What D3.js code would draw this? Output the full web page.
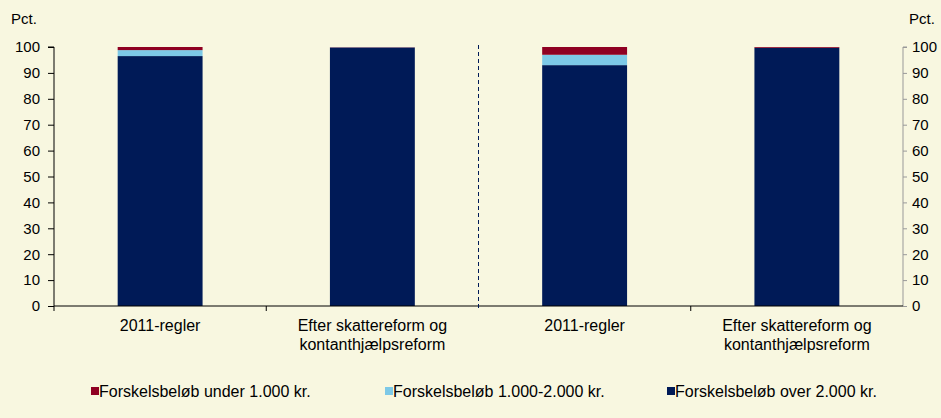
<!DOCTYPE html>
<html><head><meta charset="utf-8">
<script src="https://cdn.jsdelivr.net/npm/d3@7"></script>
<style>body{margin:0;background:#F8F7E0;}svg{display:block;font-family:"Liberation Sans",Arial,sans-serif;}</style>
</head><body><svg id="c" width="941" height="418"></svg>
<script>
const categories = ["2011-regler", "Efter skattereform og\nkontanthjælpsreform", "2011-regler ", "Efter skattereform og\nkontanthjælpsreform "];
const seriesNames = ["Forskelsbeløb over 2.000 kr.", "Forskelsbeløb 1.000-2.000 kr.", "Forskelsbeløb under 1.000 kr."];
const over2000 = [96.5, 99.8, 93.0, 99.7];
const mid1000to2000 = [2.3, 0.1, 4.0, 0.0];
const under1000 = [1.2, 0.1, 3.0, 0.3];
const yTicks = [0,10,20,30,40,50,60,70,80,90,100];
const colors = ["#001A57", "#7DC9E7", "#8F0022"];
const legendOrder = [2,1,0];

const svg = d3.select("#c");
const W=941,H=418;
svg.append("rect").attr("width",W).attr("height",H).attr("fill","#F8F7E0");
const x0=54, x1=903, yTop=47, yBot=306;
const x = d3.scaleBand().domain(categories).range([x0,x1]).paddingInner(0.6).paddingOuter(0.3);
const xb = d3.scaleBand().domain(categories).range([x0,x1]);
const y = d3.scaleLinear().domain([0,100]).range([yBot,yTop]);

const rows = categories.map((c,i)=>({cat:c, s0:over2000[i], s1:mid1000to2000[i], s2:under1000[i]}));
const stack = d3.stack().keys(["s0","s1","s2"])(rows);
stack.forEach((layer,k)=>{
  svg.append("g").selectAll("rect").data(layer).join("rect")
    .attr("x",d=>x(d.data.cat)).attr("width",x.bandwidth())
    .attr("y",d=>y(d[1])).attr("height",d=>y(d[0])-y(d[1]))
    .attr("fill",colors[k]);
});

const FONT="Liberation Sans, Arial, sans-serif";
// left axis
const la = svg.append("g").attr("transform",`translate(${x0},0)`)
  .call(d3.axisLeft(y).tickValues(yTicks).tickSize(6).tickPadding(8).tickFormat(d3.format("d")));
la.select(".domain").attr("stroke","#000").attr("d",`M-6,${yTop}H0V${yBot}`);
la.selectAll("line").attr("stroke","#000");
la.selectAll("text").attr("font-size",15).attr("fill","#000").attr("font-family",FONT);

// right axis
const ra = svg.append("g").attr("transform",`translate(${x1},0)`)
  .call(d3.axisRight(y).tickValues(yTicks).tickSize(4).tickPadding(5).tickFormat(d3.format("d")));
ra.select(".domain").attr("stroke","#999").attr("d",`M4,${yTop}H0V${yBot}`);
ra.selectAll("line").attr("stroke","#999");
ra.selectAll("text").attr("font-size",15).attr("fill","#000").attr("font-family",FONT);

// x axis
svg.append("line").attr("x1",x0).attr("x2",x1).attr("y1",yBot).attr("y2",yBot).attr("stroke","#000");
categories.forEach((c,i)=>{
  if(i>0 && i!==2){
    const bx = xb(c);
    svg.append("line").attr("x1",bx).attr("x2",bx).attr("y1",yBot).attr("y2",yBot+5).attr("stroke","#000");
  }
});
svg.append("line").attr("x1",x0).attr("x2",x0).attr("y1",yBot).attr("y2",yBot+5).attr("stroke","#000");
// dashed divider
const dx = xb(categories[2]);
svg.append("line").attr("x1",dx).attr("x2",dx).attr("y1",yTop-2).attr("y2",yBot+5)
  .attr("stroke","#001A57").attr("stroke-dasharray","4,3").attr("stroke-width",1);

categories.forEach(c=>{
  const lines = c.trim().split("\n");
  const t = svg.append("text").attr("text-anchor","middle").attr("font-size",16).attr("fill","#000");
  lines.forEach((l,j)=>t.append("tspan").attr("x",x(c)+x.bandwidth()/2).attr("y",331+j*19).text(l));
});

svg.append("text").attr("x",11).attr("y",24).attr("font-size",15).text("Pct.");
svg.append("text").attr("x",909).attr("y",24).attr("font-size",15).text("Pct.");

// legend
const lx=[91,385,667];
legendOrder.forEach((k,j)=>{
  svg.append("rect").attr("x",lx[j]).attr("y",387).attr("width",8).attr("height",8).attr("fill",colors[k]);
  svg.append("text").attr("x",lx[j]+8).attr("y",397).attr("font-size",16).text(seriesNames[k]);
});
</script></body></html>
